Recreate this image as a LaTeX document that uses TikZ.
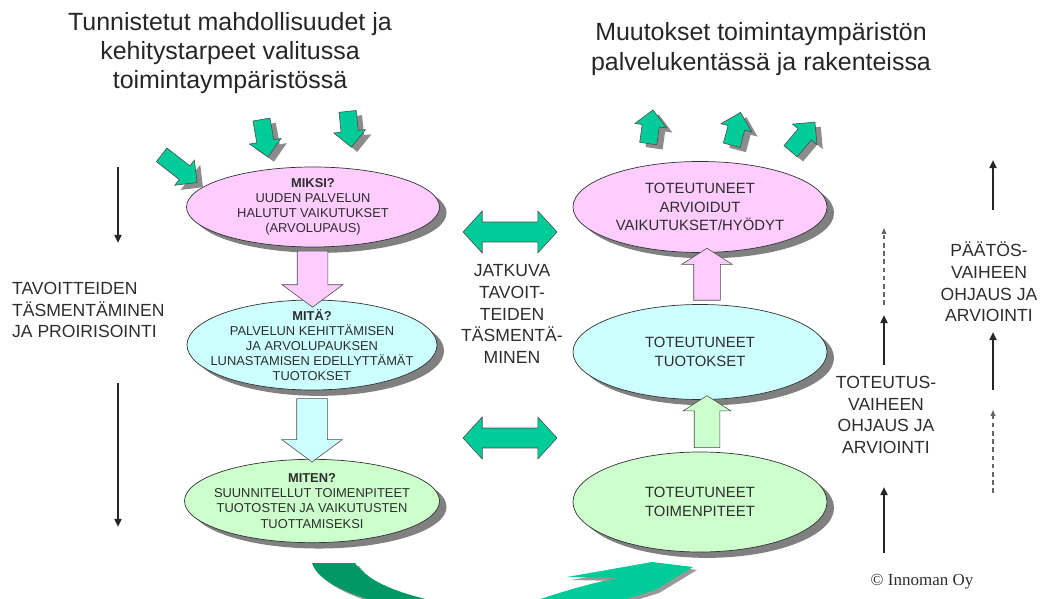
\documentclass[tikz,border=0pt]{standalone}
\usepackage{fontspec}
\setmainfont{Liberation Sans}
\newfontfamily\innofont{Liberation Serif}
\usetikzlibrary{shapes.geometric}
\usetikzlibrary{shapes.arrows}
\usetikzlibrary{shadows}
\usetikzlibrary{arrows.meta}
\usetikzlibrary{calc}

\definecolor{ovalpink}{RGB}{255,204,255}
\definecolor{ovalcyan}{RGB}{204,255,255}
\definecolor{ovalgreen}{RGB}{204,255,204}
\definecolor{arrgreen}{RGB}{0,204,153}
\definecolor{darkgreen}{RGB}{0,153,102}
\definecolor{inkgray}{RGB}{45,45,45}

\begin{document}
\begin{tikzpicture}[x=0.03cm,y=-0.03cm,
  oval/.style={ellipse, draw=black!80, line width=0.6pt, inner sep=0pt,
    minimum width=7.62cm,
    drop shadow={fill=black!50, opacity=1, shadow xshift=6pt, shadow yshift=-5pt}},
  smalltext/.style={align=center, text=inkgray, font=\fontsize{11pt}{12.9pt}\selectfont},
  bigtext/.style={align=center, text=inkgray, font=\fontsize{12.7pt}{15.8pt}\selectfont},
  sidetext/.style={text=inkgray, font=\fontsize{15pt}{18.6pt}\selectfont},
  titletext/.style={align=center, text=black!85, font=\fontsize{21.3pt}{25pt}\selectfont},
  bodyarrow/.style={single arrow, draw=black!70, line width=0.5pt, inner xsep=0pt},
  greenarrow/.style={single arrow, fill=arrgreen, draw=black!70, line width=0.5pt,
    inner xsep=0pt, inner ysep=0.25cm, single arrow tip angle=90,
    single arrow head extend=0.22cm,
    drop shadow={fill=black!45, opacity=1, shadow xshift=5pt, shadow yshift=-4pt}},
  bothways/.style={double arrow, fill=arrgreen, draw=black!70, line width=0.5pt,
    inner xsep=0pt, inner ysep=0.29cm, minimum height=2.82cm,
    double arrow head extend=0.33cm, double arrow tip angle=95},
  sidearrow/.style={line width=1.7pt, black!85, -{Triangle[length=7pt,width=6pt]}},
  dasharrow/.style={line width=0.9pt, black!60, dash pattern=on 4pt off 3pt,
    -{Triangle[length=5pt,width=4pt]}}]
\clip (0,0) rectangle (1042,599);

% titles
\node[titletext] (tunnistetut) at (230,53) {Tunnistetut mahdollisuudet ja\\kehitystarpeet valitussa\\toimintaympäristössä};
\node[titletext] (muutokset) at (761,49) {Muutokset toimintaympäristön\\palvelukentässä ja rakenteissa};

% left ovals
\node[oval, fill=ovalpink, minimum width=7.59cm, minimum height=2.4cm,
  label={[smalltext]center:\textbf{MIKSI?}\\UUDEN PALVELUN\\HALUTUT VAIKUTUKSET\\(ARVOLUPAUS)}] (miksi) at (313,207) {};
\node[oval, fill=ovalcyan, minimum width=7.5cm, minimum height=2.7cm,
  label={[smalltext]center:\textbf{MITÄ?}\\PALVELUN KEHITTÄMISEN\\JA ARVOLUPAUKSEN\\LUNASTAMISEN EDELLYTTÄMÄT\\TUOTOKSET}] (mita) at (312,345) {};
\node[oval, fill=ovalgreen, minimum width=7.65cm, minimum height=2.5cm,
  label={[smalltext]center:\textbf{MITEN?}\\SUUNNITELLUT TOIMENPITEET\\TUOTOSTEN JA VAIKUTUSTEN\\TUOTTAMISEKSI}] (miten) at (312,501) {};

% right ovals
\node[oval, fill=ovalpink, minimum height=2.73cm,
  label={[bigtext]center:TOTEUTUNEET\\ARVIOIDUT\\VAIKUTUKSET/HYÖDYT}] (hyodyt) at (700,207) {};
\node[oval, fill=ovalcyan, minimum height=2.85cm,
  label={[bigtext]center:TOTEUTUNEET\\TUOTOKSET}] (tuotokset) at (700,352) {};
\node[oval, fill=ovalgreen, minimum height=3cm,
  label={[bigtext]center:TOTEUTUNEET\\TOIMENPITEET}] (toimet) at (700,502) {};

% block arrows between the ovals
\node[bodyarrow, fill=ovalpink, rotate=-90, minimum height=1.68cm,
  inner ysep=0.45cm, single arrow head extend=0.45cm, single arrow tip angle=107]
  (miksimita) at ($(miksi.south)!0.5!(mita.north)$) {};
\node[bodyarrow, fill=ovalcyan, rotate=-90, minimum height=1.9cm,
  inner ysep=0.45cm, single arrow head extend=0.45cm, single arrow tip angle=107]
  (mitamiten) at ($(mita.south)!0.5!(miten.north)$) {};
\node[bodyarrow, fill=ovalgreen, rotate=90, minimum height=1.56cm,
  inner ysep=0.375cm, single arrow head extend=0.33cm, single arrow tip angle=115]
  (toimtuot) at ($(toimet.north)!0.5!(tuotokset.south)+(7,0)$) {};
\node[bodyarrow, fill=ovalpink, rotate=90, minimum height=1.56cm,
  inner ysep=0.39cm, single arrow head extend=0.36cm, single arrow tip angle=115]
  (tuothyod) at ($(tuotokset.north)!0.5!(hyodyt.south)+(7,0)$) {};

% green arrows in and out
\node[greenarrow, rotate=-38, minimum height=1.35cm] (in1) at (176,166) {};
\node[greenarrow, rotate=-80, minimum height=1.14cm] (in2) at (264,134) {};
\node[greenarrow, rotate=-84, minimum height=1.08cm] (in3) at (349,125) {};
\node[greenarrow, rotate=82, minimum height=1.02cm] (out1) at (650,131) {};
\node[greenarrow, rotate=75, minimum height=1.02cm] (out2) at (735,133) {};
\node[greenarrow, rotate=50, minimum height=1.14cm] (out3) at (800,140) {};

% continuous refinement
\node[bothways] (both1) at (510,232) {};
\node[bothways] (both2) at (510,438) {};
\node[sidetext, align=center] (jatkuva) at (512,314) {JATKUVA\\TAVOIT-\\TEIDEN\\TÄSMENTÄ-\\MINEN};

% side labels
\node[sidetext, align=left, anchor=west] (tavoite) at (8,310) {TAVOITTEIDEN\\TÄSMENTÄMINEN\\JA PROIRISOINTI};
\node[sidetext, align=center] (toteutus) at (886,415) {TOTEUTUS-\\VAIHEEN\\OHJAUS JA\\ARVIOINTI};
\node[sidetext, align=center] (paatos) at (989,282) {PÄÄTÖS-\\VAIHEEN\\OHJAUS JA\\ARVIOINTI};

\foreach \n/\x/\y in {ta/118/167, tb/118/243, tc/118/383, td/118/527,
    ra/884/553, rb/884/487, rc/884/365, rd/884/315, re/884/305, rf/884/228,
    pa/993/210, pb/993/160, pc/993/390, pd/993/332, pe/993/493, pf/993/410}
  \coordinate (\n) at (\x,\y);
\draw[sidearrow] (ta) -- (tb);
\draw[sidearrow] (tc) -- (td);
\draw[sidearrow] (ra) -- (rb);
\draw[sidearrow] (rc) -- (rd);
\draw[dasharrow] (re) -- (rf);
\draw[sidearrow] (pa) -- (pb);
\draw[sidearrow] (pc) -- (pd);
\draw[dasharrow] (pe) -- (pf);

% the loop arrow at the bottom
\begin{scope}[shift={(4,3)}]
\fill[black!40] (312,563) -- (355,563) .. controls (370,585) and (410,598) .. (470,608)
  -- (400,608) .. controls (350,596) and (318,582) .. (312,563) -- cycle;
\fill[black!40] (567,577) -- (652,562) -- (693,567) -- (655,590)
  .. controls (630,598) and (610,603) .. (600,608) -- (515,608)
  .. controls (550,595) and (590,583) .. (618,578) -- cycle;
\end{scope}
\fill[darkgreen] (312,563) -- (355,563) .. controls (370,585) and (410,598) .. (470,608)
  -- (400,608) .. controls (350,596) and (318,582) .. (312,563) -- cycle;
\fill[arrgreen] (567,577) -- (652,562) -- (693,567) -- (655,590)
  .. controls (630,598) and (610,603) .. (600,608) -- (515,608)
  .. controls (550,595) and (590,583) .. (618,578) -- cycle;

\node[font=\innofont\fontsize{14.5pt}{17pt}\selectfont, text=inkgray] (innoman) at (922,582) {© Innoman Oy};
\end{tikzpicture}
\end{document}
